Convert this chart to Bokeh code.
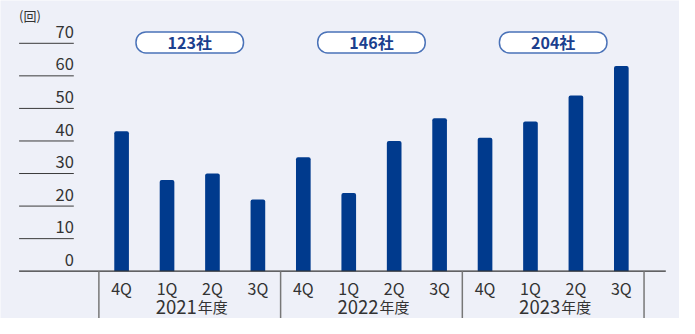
from bokeh.plotting import figure
from bokeh.models import Range1d
from bokeh.core.properties import value
from bokeh.embed import file_html
from bokeh.resources import INLINE

# ---- data ----
quarters = ["4Q", "1Q", "2Q", "3Q", "4Q", "1Q", "2Q", "3Q", "4Q", "1Q", "2Q", "3Q"]
counts = [43, 28, 30, 22, 35, 24, 40, 47, 41, 46, 54, 63]
years = ["2021", "2022", "2023"]
year_suffix = "年度"
companies = ["123社", "146社", "204社"]
y_ticks = [0, 10, 20, 30, 40, 50, 60, 70]
y_unit = "(回)"

# ---- style ----
BG = "#EEF0F8"
BAR = "#003A8D"
TXT = "#333333"
PILL_TXT = "#1B3F8E"
PILL_LINE = "#4A72B8"
FONT = value("Noto Sans CJK JP")

W, H = 679, 318
PX_X = 45.43         # px per category
X0_PX = 121.1        # px of first bar centre
AX_PX = 270.7        # px of the zero line
PX_Y = (AX_PX - 42.8) / 70   # px per unit


def dx(px):
    return (px - X0_PX) / PX_X


def dy(px):
    return (AX_PX - px) / PX_Y


p = figure(width=W, height=H, x_range=Range1d(dx(0), dx(W)), y_range=Range1d(dy(H), dy(0)),
           output_backend="svg", toolbar_location=None, min_border=0,
           x_axis_location=None, y_axis_location=None,
           background_fill_color=BG, border_fill_color=BG, outline_line_color=None)
p.grid.visible = False

xs = list(range(len(counts)))
n_groups = len(years)
per = len(quarters) // n_groups
group_centers = [g * per + (per - 1) / 2 for g in range(n_groups)]

# y gridline stubs and labels
gl_x0 = dx(18.6)
gl_x1 = dx(73.3)
grid_vals = [t for t in y_ticks if t != 0]
p.segment(x0=[gl_x0] * len(grid_vals), x1=[gl_x1] * len(grid_vals), y0=grid_vals, y1=grid_vals,
          line_color="#3a3a3a", line_width=1)
p.text(x=[gl_x1] * len(y_ticks), y=[t + 11.4 / PX_Y for t in y_ticks], text=[str(t) for t in y_ticks],
       text_font=FONT, text_font_size="16.5px", text_align="right", text_baseline="middle",
       text_color=TXT)
p.text(x=[dx(18.6)], y=[dy(15)], text=[y_unit], text_font=FONT,
       text_font_size="13px", text_align="left", text_baseline="middle", text_color=TXT)

# bars
p.vbar(x=xs, top=counts, bottom=0, width=14.65 / PX_X, fill_color=BAR, line_color=None,
       border_radius=(2, 2, 0, 0))

# baseline
p.segment(x0=[gl_x0], x1=[dx(665.3)], y0=[0], y1=[0], line_color="#333333", line_width=1.3)

# group separators
seps = [g * per - 0.5 for g in range(n_groups + 1)]
p.segment(x0=seps, x1=seps, y0=[0] * len(seps), y1=[dy(H)] * len(seps), line_color="#777777",
          line_width=1.5)

# quarter labels
p.text(x=xs, y=[dy(AX_PX + 16.5)] * len(xs), text=quarters, text_font=FONT, text_font_size="16px",
       text_align="center", text_baseline="middle", text_color=TXT)

# year labels
off = 7 / PX_X
yb = dy(306.5)
p.text(x=[c + off for c in group_centers], y=[yb] * n_groups, text=years, text_font=FONT,
       text_font_size="18.5px", text_align="right", text_baseline="middle", text_color=TXT)
p.text(x=[c + off + 1 / PX_X for c in group_centers], y=[yb + 0.3] * n_groups,
       text=[year_suffix] * n_groups, text_font=FONT, text_font_size="15px", text_align="left",
       text_baseline="middle", text_color=TXT)

# company pills
pill_y = dy(41.9)
p.rect(x=group_centers, y=[pill_y] * n_groups, width=107.5, height=21, width_units="screen",
       height_units="screen", fill_color="white", line_color=PILL_LINE, line_width=1.5,
       border_radius=10)
p.text(x=group_centers, y=[pill_y] * n_groups, text=companies, text_font=FONT,
       text_font_size="16px", text_font_style="bold", text_align="center", text_baseline="middle",
       text_color=PILL_TXT)

open("out.html", "w").write(file_html(p, INLINE))
